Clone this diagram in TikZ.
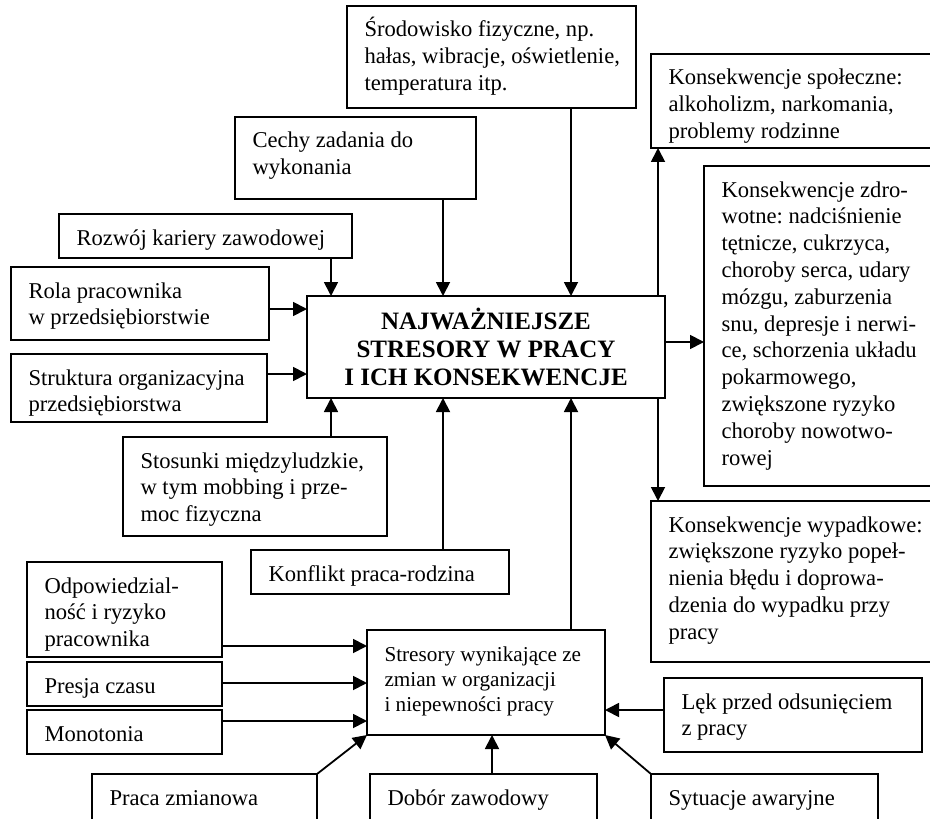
\documentclass[tikz,border=0pt]{standalone}
\usepackage{fontspec}
\setmainfont{Liberation Serif}
\usetikzlibrary{arrows.meta}
\newlength{\px}\setlength{\px}{0.5pt}
\newcommand{\boxtxt}[3]{\parbox[c][#2\px][t]{#1\px}{\raggedright\frenchspacing\leftskip=17.5\px\rule{0pt}{31\px}#3}}
\begin{document}
\begin{tikzpicture}[x=0.5pt,y=-0.5pt,
  box/.style={draw,line width=1pt,anchor=north west,inner sep=0pt,outer sep=0pt,font=\fontsize{11.3}{13.4}\selectfont},
  arr/.style={line width=0.9pt,-{Triangle[length=7pt,width=7pt]}}]
\useasboundingbox (0,0) rectangle (930,818);
\clip (0,0) rectangle (930,818);

% stressors above and left of the centre
\node[box] (srod) at (347,6) {\boxtxt{289}{102}{Środowisko fizyczne, np.\\hałas, wibracje, oświetlenie,\\temperatura itp.}};
\node[box] (cechy) at (235,117) {\boxtxt{241}{82}{Cechy zadania do\\wykonania}};
\node[box] (rozwoj) at (59,214) {\boxtxt{293}{44}{Rozwój kariery zawodowej}};
\node[box] (rola) at (11,267) {\boxtxt{258}{73}{Rola pracownika\\w przedsiębiorstwie}};
\node[box] (strukt) at (11,354) {\boxtxt{256}{68}{Struktura organizacyjna\\przedsiębiorstwa}};

\node[draw,line width=1pt,anchor=north west,outer sep=0pt,minimum width=358\px,minimum height=102\px,align=center,font=\bfseries\fontsize{12.5}{14}\selectfont] (main) at (307,296) {NAJWAŻNIEJSZE\\STRESORY W PRACY\\I ICH KONSEKWENCJE};

% consequences
\node[box] (spol) at (651,54) {\boxtxt{290}{94}{Konsekwencje społeczne:\\alkoholizm, narkomania,\\problemy rodzinne}};
\node[box] (zdr) at (704,166) {\boxtxt{240}{320}{Konsekwencje zdro-\\wotne: nadciśnienie\\tętnicze, cukrzyca,\\choroby serca, udary\\mózgu, zaburzenia\\snu, depresje i nerwi-\\ce, schorzenia układu\\pokarmowego,\\zwiększone ryzyko\\choroby nowotwo-\\rowej}};
\node[box] (wyp) at (651,501) {\boxtxt{290}{161}{Konsekwencje wypadkowe:\\zwiększone ryzyko popeł-\\nienia błędu i doprowa-\\dzenia do wypadku przy\\pracy}};

% stressors below the centre
\node[box] (stos) at (123,437) {\boxtxt{264}{99}{Stosunki międzyludzkie,\\w tym mobbing i prze-\\moc fizyczna}};
\node[box] (konf) at (251,550) {\boxtxt{258}{44}{Konflikt praca-rodzina}};
\node[box] (odp) at (27,562) {\boxtxt{195}{95}{Odpowiedzial-\\ność i ryzyko\\pracownika}};
\node[box] (presja) at (27,662) {\boxtxt{195}{44}{Presja czasu}};
\node[box] (mono) at (27,710) {\boxtxt{195}{44}{Monotonia}};
\node[box,font=\fontsize{10.6}{12.5}\selectfont] (stres) at (367,630) {\boxtxt{238}{105}{Stresory wynikające ze\\zmian w organizacji\\i niepewności pracy}};
\node[box] (lek) at (664,678) {\boxtxt{258}{74}{Lęk przed odsunięciem\\z pracy}};
\node[box] (praca) at (92,774) {\boxtxt{225}{60}{Praca zmianowa}};
\node[box] (dobor) at (370,774) {\boxtxt{227}{60}{Dobór zawodowy}};
\node[box] (syt) at (651,774) {\boxtxt{227}{60}{Sytuacje awaryjne}};

% arrow ends on the boxes
\coordinate (nA) at ([xshift=12pt]main.north west);
\coordinate (nB) at ([xshift=68pt]main.north west);
\coordinate (nC) at ([xshift=132pt]main.north west);
\coordinate (nD) at ([xshift=-3.5pt]main.north east);
\coordinate (sA) at ([xshift=12pt]main.south west);
\coordinate (sB) at ([xshift=68pt]main.south west);
\coordinate (sC) at ([xshift=132pt]main.south west);
\coordinate (sD) at ([xshift=-3.5pt]main.south east);
\coordinate (wA) at ([yshift=-6.5pt]main.north west);
\coordinate (wB) at ([yshift=-39pt]main.north west);
\coordinate (eA) at ([yshift=2.5pt]main.east);
\coordinate (stW1) at ([yshift=-8pt]stres.north west);
\coordinate (stW2) at ([yshift=-26.5pt]stres.north west);
\coordinate (stW3) at ([yshift=-45.5pt]stres.north west);
\coordinate (stE) at ([yshift=-40pt]stres.north east);
\coordinate (stS) at ([xshift=62.5pt]stres.south west);

\draw[arr] (nA |- rozwoj.south) -- (nA);
\draw[arr] (nB |- cechy.south) -- (nB);
\draw[arr] (nC |- srod.south) -- (nC);
\draw[arr] (wA -| rola.east) -- (wA);
\draw[arr] (wB -| strukt.east) -- (wB);
\draw[arr] (sA |- stos.north) -- (sA);
\draw[arr] (sB |- konf.north) -- (sB);
\draw[arr] (sC |- stres.north) -- (sC);
\draw[arr] (nD) -- (nD |- spol.south);
\draw[arr] (sD) -- (sD |- wyp.north);
\draw[arr] (eA) -- (eA -| zdr.west);

\draw[arr] (stW1 -| odp.east) -- (stW1);
\draw[arr] (stW2 -| presja.east) -- (stW2);
\draw[arr] (stW3 -| mono.east) -- (stW3);
\draw[arr] (stE -| lek.west) -- (stE);
\draw[arr] (stS |- dobor.north) -- (stS);
\draw[arr] (praca.north east) -- (stres.south west);
\draw[arr] (syt.north west) -- (stres.south east);
\end{tikzpicture}
\end{document}
